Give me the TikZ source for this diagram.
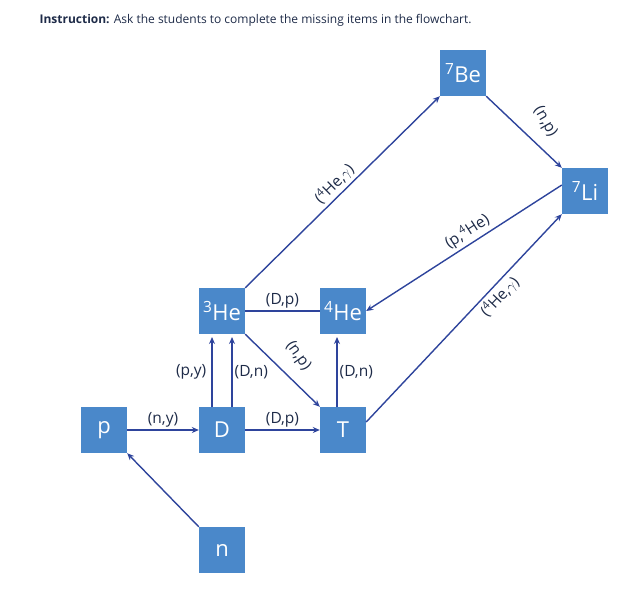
\documentclass[tikz,border=0pt]{standalone}
\usepackage{fontspec}
\setmainfont{Open Sans}
\usetikzlibrary{arrows.meta}
\definecolor{box}{HTML}{4A88CA}
\definecolor{ln}{HTML}{2E449C}
\definecolor{tx}{HTML}{1E2B48}
\begin{document}
\begin{tikzpicture}[x=1pt,y=-1pt,
  bx/.style={fill=box,text=white,minimum size=46pt,inner sep=0pt,font=\fontsize{22}{22}\selectfont},
  ar/.style={draw=ln,line width=1.4pt,-{Stealth[length=7pt,width=6pt]}},
  pl/.style={draw=ln,line width=1.4pt},
  lb/.style={text=tx,font=\fontsize{15.5}{16}\selectfont,inner sep=1pt}]
\useasboundingbox (0,0) rectangle (623,611);
\node[anchor=west,text=tx,font=\fontsize{12}{13}\selectfont] (ins) at (36,20) {\textbf{Instruction:} Ask the students to complete the missing items in the flowchart.};
\node[bx] (p) at (104,430) {p};
\node[bx] (D) at (222,430) {D};
\node[bx] (T) at (343,430) {T};
\node[bx] (he3) at (222,311) {\textsuperscript{3}He};
\node[bx] (he4) at (343,311) {\textsuperscript{4}He};
\node[bx] (n) at (222,550) {n};
\node[bx] (be7) at (463,73) {\textsuperscript{7}Be};
\node[bx] (li7) at (585,191) {\textsuperscript{7}Li};
\coordinate (a1) at (212,407); \coordinate (a2) at (212,337);
\coordinate (b1) at (232,407); \coordinate (b2) at (232,337);
\coordinate (c1) at (337,407); \coordinate (c2) at (337,337);
\draw[ar] (p) -- node[lb,above=1pt]{(n,y)} (D);
\draw[ar] (D) -- node[lb,above=1pt]{(D,p)} (T);
\draw[pl] (he3) -- node[lb,above=1pt]{(D,p)} (he4);
\draw[ar] (a1) -- node[lb,left=4pt]{(p,y)} (a2);
\draw[ar] (b1) -- node[lb,right=1pt]{(D,n)} (b2);
\draw[ar] (c1) -- node[lb,right=1pt]{(D,n)} (c2);
\draw[ar] (he3.south east) -- (T.north west) ;
\node[lb,rotate=-55] (np1) at (298,356) {(n,p)};
\draw[ar] (n.north west) -- (p.south east);
\draw[ar] (he3.north east) -- node[lb,sloped,above=2pt]{(\textsuperscript{4}He,$\gamma$)} (be7.south west);
\draw[ar] (be7.south east) -- (li7.north west);
\node[lb,rotate=-60] (np2) at (545,122) {(n,p)};
\draw[ar] ([yshift=6pt]li7.west) -- node[lb,sloped,above=2pt,pos=0.45]{(p,\textsuperscript{4}He)} (he4.east);
\draw[ar] ([yshift=8pt]T.east) -- node[lb,sloped,below=2pt,pos=0.64]{(\textsuperscript{4}He,$\gamma$)} (li7.south west);
\end{tikzpicture}
\end{document}
